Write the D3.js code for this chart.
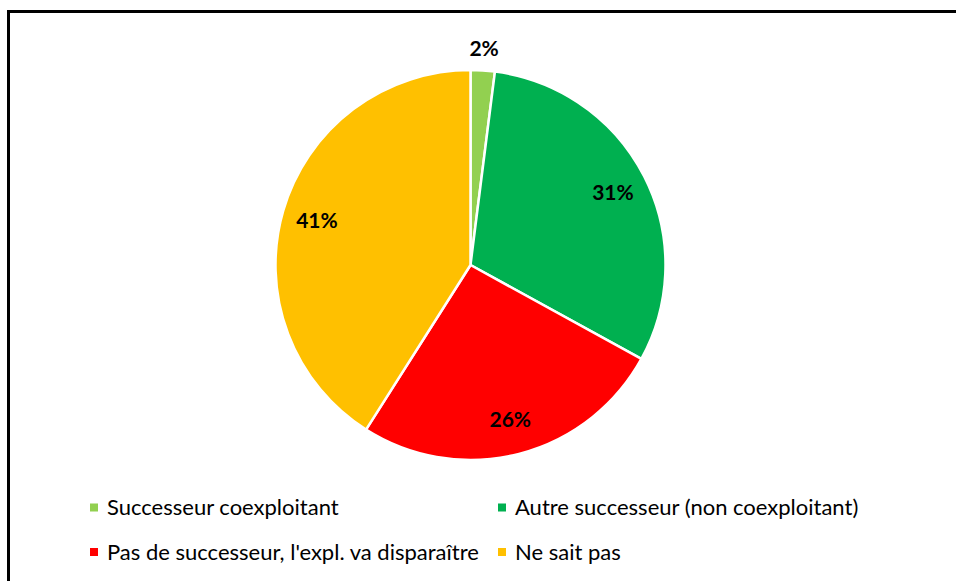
<!DOCTYPE html>
<html>
<head>
<meta charset="utf-8">
<script src="https://cdn.jsdelivr.net/npm/d3@7"></script>
<style>
  html, body { margin: 0; padding: 0; background: #fff; }
  svg { display: block; }
</style>
</head>
<body>
<svg id="chart" width="956" height="581"></svg>
<script>
// Succession des exploitations : répartition des réponses
const categories = [
  "Successeur coexploitant",
  "Autre successeur (non coexploitant)",
  "Pas de successeur, l'expl. va disparaître",
  "Ne sait pas"
];
const values = [2, 31, 26, 41];
const colors = ["#92D050", "#00B050", "#FF0000", "#FFC000"];

const svg = d3.select("#chart");
const fontFamily = "Lato, 'Open Sans', sans-serif";

// Chart frame
svg.append("rect")
  .attr("x", 8.5).attr("y", 11.5)
  .attr("width", 960).attr("height", 600)
  .attr("fill", "#fff")
  .attr("stroke", "#000")
  .attr("stroke-width", 3);

const cx = 470.5, cy = 265, R = 195;

const pie = d3.pie().sort(null).value(d => d.value);
const arcs = pie(values.map((v, i) => ({ value: v, name: categories[i], color: colors[i] })));

const arc = d3.arc().innerRadius(0).outerRadius(R);
const labelArcIn = d3.arc().innerRadius(R * 0.82).outerRadius(R * 0.82);
const labelArcOut = d3.arc().innerRadius(R * 1.11).outerRadius(R * 1.11);

const g = svg.append("g").attr("transform", `translate(${cx},${cy})`);

g.selectAll("path.slice")
  .data(arcs)
  .join("path")
  .attr("class", "slice")
  .attr("d", arc)
  .attr("fill", d => d.data.color)
  .attr("stroke", "#fff")
  .attr("stroke-width", 2.5)
  .attr("stroke-linejoin", "round");

g.selectAll("text.lbl")
  .data(arcs)
  .join("text")
  .attr("class", "lbl")
  .attr("transform", d => {
    const p = (d.data.value < 5 ? labelArcOut : labelArcIn).centroid(d);
    return `translate(${p[0]},${p[1]})`;
  })
  .attr("text-anchor", "middle")
  .attr("dy", "0.35em")
  .attr("font-family", fontFamily)
  .attr("font-weight", "bold")
  .attr("font-size", 21)
  .attr("fill", "#000")
  .text(d => d.data.value + "%");

// Legend (2 columns x 2 rows)
const legendCols = [90, 498];
const legendRows = [507.5, 552];
const legend = svg.append("g");
categories.forEach((name, i) => {
  const x = legendCols[i % 2];
  const y = legendRows[Math.floor(i / 2)];
  legend.append("rect")
    .attr("x", x).attr("y", y - 4)
    .attr("width", 8).attr("height", 8)
    .attr("fill", colors[i]);
  legend.append("text")
    .attr("x", x + 17).attr("y", y)
    .attr("dy", "0.35em")
    .attr("font-family", fontFamily)
    .attr("font-size", 22)
    .attr("fill", "#000")
    .text(name);
});
</script>
</body>
</html>
